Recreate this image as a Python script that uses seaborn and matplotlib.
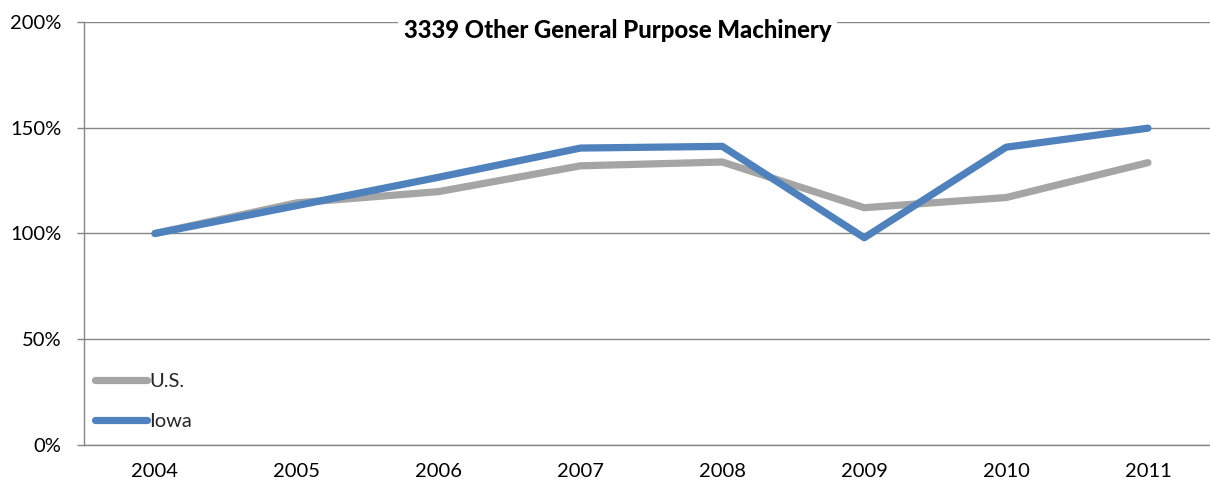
import matplotlib
matplotlib.use("Agg")
import matplotlib.pyplot as plt
import seaborn as sns
import pandas as pd
from matplotlib.ticker import FuncFormatter

years = ["2004", "2005", "2006", "2007", "2008", "2009", "2010", "2011"]
us_values = [100, 114.5, 119.8, 132.0, 133.8, 112.2, 117.0, 133.5]
iowa_values = [100, 113.2, 126.6, 140.4, 141.2, 98.0, 140.8, 149.8]
series_names = ["U.S.", "Iowa"]
title_text = "3339 Other General Purpose Machinery"
y_ticks = [0, 50, 100, 150, 200]

df = pd.DataFrame({
    "year": years * 2,
    "value": us_values + iowa_values,
    "series": [series_names[0]] * len(years) + [series_names[1]] * len(years),
})

sns.set_theme(style="white")
plt.rcParams["font.family"] = ["Lato", "DejaVu Sans"]

fig = plt.figure(figsize=(12.10, 4.87), dpi=100)
ax = fig.add_axes([84 / 1210, 42 / 487, 1134.9 / 1210, 423 / 487])

palette = {"U.S.": "#A5A5A5", "Iowa": "#4F81BD"}
sns.lineplot(data=df, x="year", y="value", hue="series", hue_order=series_names,
             palette=palette, linewidth=5.2, ax=ax, sort=False, legend=True)
for ln in ax.lines:
    ln.set_solid_capstyle("round")
    ln.set_solid_joinstyle("round")

ax.set_xlim(-0.5, len(years) - 0.5)
ax.set_ylim(0, 200)
ax.set_yticks(y_ticks)
ax.yaxis.set_major_formatter(FuncFormatter(lambda v, p: f"{int(v)}%"))
ax.set_xlabel("")
ax.set_ylabel("")

grid_c = "#868686"
ax.grid(axis="y", color=grid_c, linewidth=1.0)
ax.grid(axis="x", visible=False)
ax.set_axisbelow(True)
for s in ["top", "right"]:
    ax.spines[s].set_visible(False)
for s in ["left", "bottom"]:
    ax.spines[s].set_color(grid_c)
    ax.spines[s].set_linewidth(1.0)

ax.tick_params(axis="y", which="major", left=True, length=5.3, width=1.0, color=grid_c,
               pad=11, labelsize=14.5, labelcolor="black")
ax.tick_params(axis="x", which="major", bottom=False, length=0, pad=13,
               labelsize=14.5, labelcolor="black")

ax.text(0.47, 0.979, title_text, transform=ax.transAxes, ha="center", va="center",
        fontsize=17.2, fontweight="black", color="black",
        bbox=dict(facecolor="white", edgecolor="none", pad=4))

handles, labels = ax.get_legend_handles_labels()
leg = ax.legend(handles, labels, loc="lower left", bbox_to_anchor=(0.0097, 0.035),
                frameon=False, fontsize=14.5, handlelength=2.6, handletextpad=0.1,
                labelspacing=1.15, borderpad=0, borderaxespad=0)
for lh in leg.get_lines():
    lh.set_linewidth(5.2)
    lh.set_solid_capstyle("round")

fig.savefig("out.png", dpi=100)
